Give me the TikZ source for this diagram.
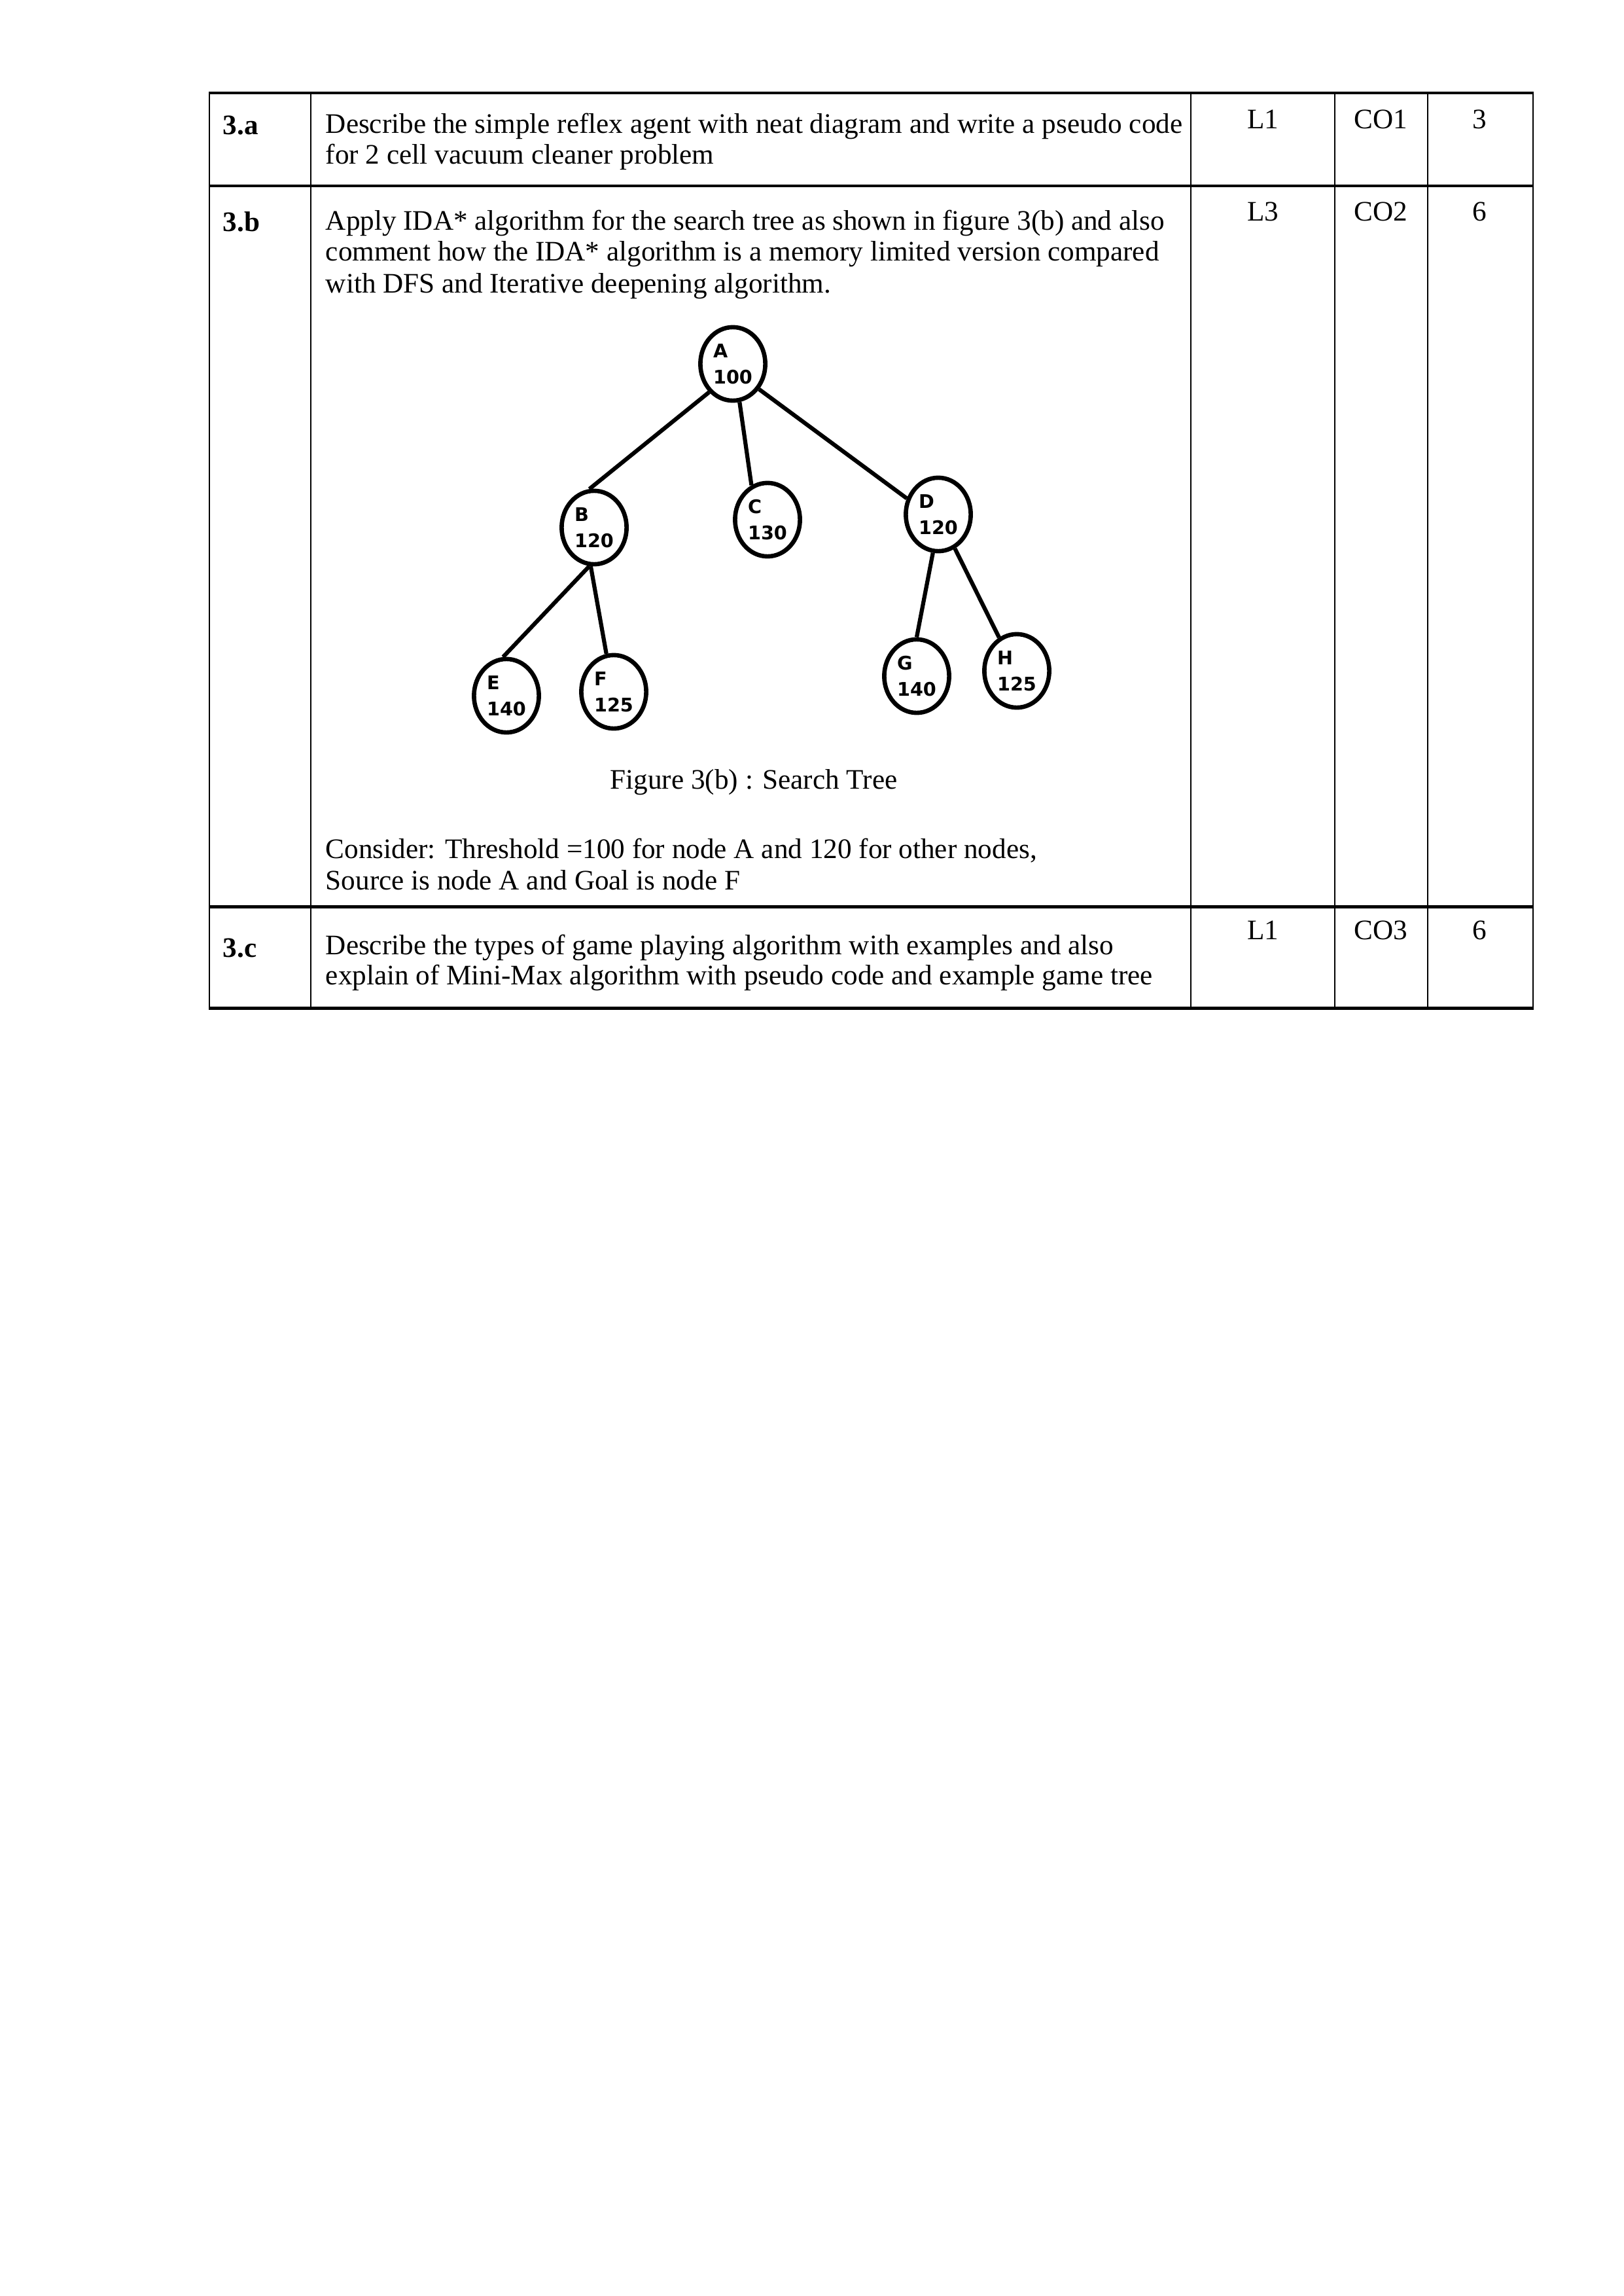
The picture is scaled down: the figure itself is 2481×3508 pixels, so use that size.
\documentclass[tikz,border=0pt]{standalone}
\usepackage{fontspec}
\setmainfont{Liberation Serif}
\newfontfamily\treefont{DejaVu Sans}
\usepackage{tikz}
\usetikzlibrary{shapes.geometric}
\tikzset{
  treenode/.style={draw, ellipse, line width=1.6pt, minimum width=8.4mm, minimum height=9.5mm,
    inner sep=0pt, align=left, font=\treefont\bfseries\fontsize{6.9}{9.6}\selectfont},
  branch/.style={line width=1.5pt},
  cell/.style={anchor=base west, inner sep=0pt, font=\fontsize{10.4}{12}\selectfont},
  qno/.style={cell, font=\bfseries\fontsize{10.4}{12}\selectfont},
  colmark/.style={anchor=base, inner sep=0pt, font=\fontsize{10.4}{12}\selectfont}
}

\begin{document}
\begin{tikzpicture}[x=0.08464mm, y=-0.08464mm]
\useasboundingbox (0,0) rectangle (2481,3508);
\fill [white] (0,0) rectangle (2481,3508);

\foreach \y in {142,284,1385,1540} {\draw [line width=1.2pt] (319,\y) -- (2344,\y);}
\foreach \x in {320,475,1820,2040,2182,2343} {\draw [line width=0.6pt] (\x,142) -- (\x,1540);}

\node [qno] (qa) at (340,205) {3.a};
\node [qno] (qb) at (340,353) {3.b};
\node [qno] (qc) at (340,1462) {3.c};

\foreach \lvl/\co/\mk/\y [count=\i] in {L1/CO1/3/196, L3/CO2/6/337, L1/CO3/6/1435} {
  \node [colmark] (lv\i) at (1930,\y) {\lvl};
  \node [colmark] (co\i) at (2110,\y) {\co};
  \node [colmark] (mk\i) at (2261,\y) {\mk};
}

\node [cell] (ta1) at (497,203) {Describe the simple reflex agent with neat diagram and write a pseudo code};
\node [cell] (ta2) at (497,250) {for 2 cell vacuum cleaner problem};
\node [cell] (tb1) at (497,351) {Apply IDA* algorithm for the search tree as shown in figure 3(b) and also};
\node [cell] (tb2) at (497,398) {comment how the IDA* algorithm is a memory limited version compared};
\node [cell] (tb3) at (497,447) {with DFS and Iterative deepening algorithm.};

\node [treenode] (A) at (1120,556) {A\\100};
\node [treenode] (B) at (908,806) {B\\120};
\node [treenode] (C) at (1173,794) {C\\130};
\node [treenode] (D) at (1434,786) {D\\120};
\node [treenode] (E) at (774,1063) {E\\140};
\node [treenode] (F) at (938,1057) {F\\125};
\node [treenode] (G) at (1401,1033) {G\\140};
\node [treenode] (H) at (1554,1025) {H\\125};

\foreach \a/\b in {A.230/B.97, A.280/C.115, A.316/D.153, B.263/E.95, B.265/F.101, D.262/G.90, D.296/H.118}
  {\draw [branch] (\a) -- (\b);}

\node [colmark] (cap) at (1152,1205) {Figure 3(b) : Search Tree};

\node [cell] (tb4) at (497,1311) {Consider: Threshold =100 for node A and 120 for other nodes,};
\node [cell] (tb5) at (497,1359) {Source is node A and Goal is node F};
\node [cell] (tc1) at (497,1458) {Describe the types of game playing algorithm with examples and also};
\node [cell] (tc2) at (497,1504) {explain of Mini-Max algorithm with pseudo code and example game tree};

\end{tikzpicture}
\end{document}
